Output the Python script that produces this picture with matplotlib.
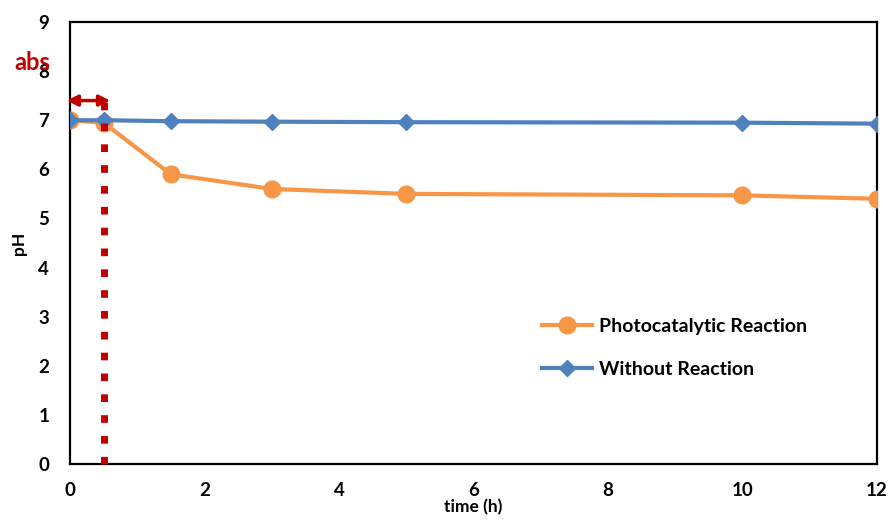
import matplotlib
matplotlib.use("Agg")
import matplotlib.pyplot as plt

plt.rcParams.update({"font.family": ["Lato", "DejaVu Sans"], "font.weight": "bold"})

ORANGE = "#F79646"
BLUE = "#4F81BD"
RED = "#C00000"

time_h = [0, 0.5, 1.5, 3, 5, 10, 12]
ph_photo = [7.0, 6.95, 5.9, 5.6, 5.5, 5.47, 5.4]
ph_without = [7.0, 7.0, 6.98, 6.97, 6.96, 6.95, 6.93]
abs_end = 0.5

fig = plt.figure(figsize=(8.89, 5.2), dpi=100)
ax = fig.add_axes([0.0787, 0.1077, 0.9078, 0.85])

ax.plot(time_h, ph_photo, color=ORANGE, lw=3, marker="o", ms=12,
        label="Photocatalytic Reaction", zorder=3)
ax.plot(time_h, ph_without, color=BLUE, lw=3, marker="D", ms=8.5,
        label="Without Reaction", zorder=4)

# dark-phase (adsorption) marker
ax.plot([abs_end, abs_end], [0, 7.45], color=RED, lw=5,
        dashes=(1.1, 1.9), dash_capstyle="butt", zorder=5, clip_on=False)
ax.annotate("", xy=(-0.05, 7.4), xytext=(0.6, 7.4),
            arrowprops=dict(arrowstyle="<|-|>", color=RED, lw=2.5,
                            mutation_scale=16, shrinkA=0, shrinkB=0),
            annotation_clip=False, zorder=6)
ax.text(-0.56, 8.18, "abs", color=RED, fontsize=17, fontweight="bold",
        ha="center", va="center")

ax.set_xlim(0, 12)
ax.set_ylim(0, 9)
ax.set_xticks(range(0, 13, 2))
ax.set_yticks(range(0, 10))
ax.tick_params(length=0, labelsize=13.5)
ax.tick_params(axis="x", pad=13)
ax.tick_params(axis="y", pad=15)
for s in ax.spines.values():
    s.set_linewidth(1.6)
    s.set_color("black")

ax.set_xlabel("time (h)", fontsize=12.5, fontweight="bold", labelpad=0)
ax.set_ylabel("pH", fontsize=12.5, fontweight="bold", labelpad=8)

ax.legend(loc="lower right", bbox_to_anchor=(0.935, 0.155), frameon=False,
          fontsize=14, handlelength=2.6, labelspacing=1.35, handletextpad=0.35)

fig.savefig("out.png", dpi=100, facecolor="white")
